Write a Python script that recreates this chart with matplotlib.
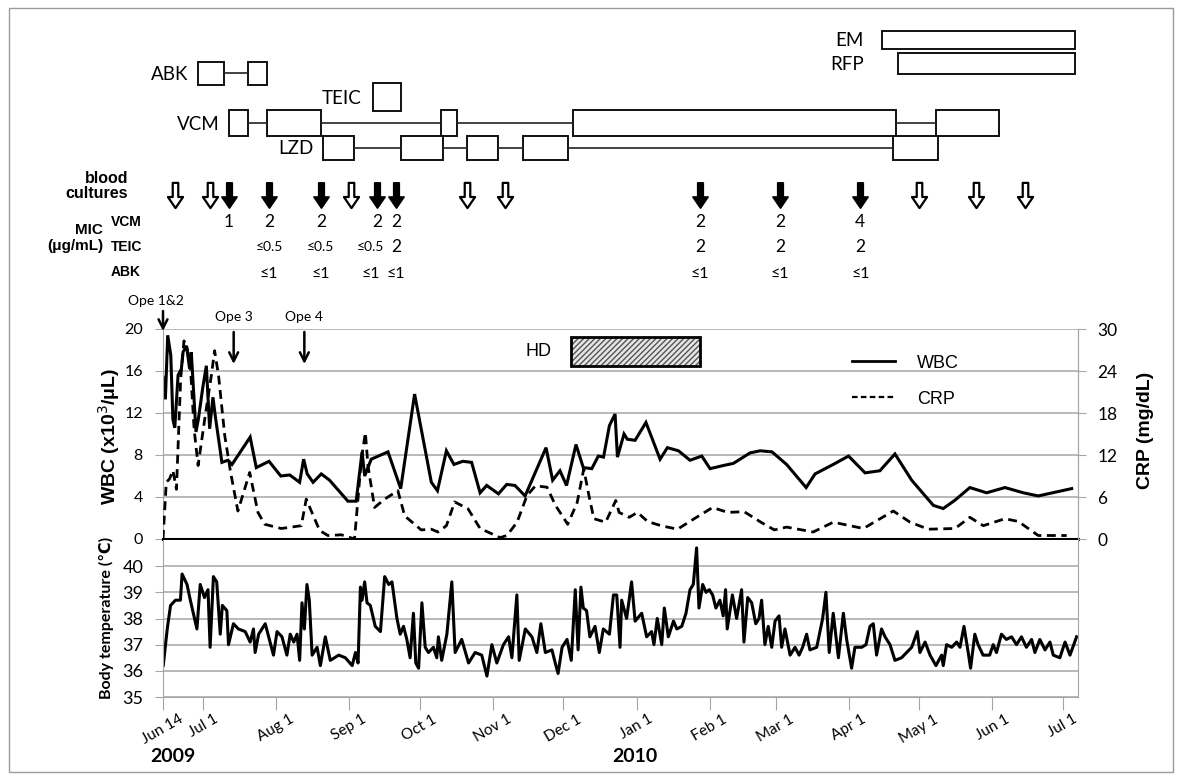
import datetime as dt
import numpy as np
import matplotlib
matplotlib.use("Agg")
import matplotlib.pyplot as plt
from matplotlib.path import Path
from matplotlib.patches import Rectangle
from matplotlib.lines import Line2D
from matplotlib.transforms import blended_transform_factory

# ---------------------------------------------------------------- data
START = dt.date(2009, 6, 14)
END_DAY = 388.4

tick_dates = [dt.date(2009, 6, 14), dt.date(2009, 7, 1), dt.date(2009, 8, 1),
              dt.date(2009, 9, 1), dt.date(2009, 10, 1), dt.date(2009, 11, 1),
              dt.date(2009, 12, 1), dt.date(2010, 1, 1), dt.date(2010, 2, 1),
              dt.date(2010, 3, 1), dt.date(2010, 4, 1), dt.date(2010, 5, 1),
              dt.date(2010, 6, 1), dt.date(2010, 7, 1)]
tick_labels = ["Jun 14", "Jul 1", "Aug 1", "Sep 1", "Oct 1", "Nov 1", "Dec 1",
               "Jan 1", "Feb 1", "Mar 1", "Apr 1", "May 1", "Jun 1", "Jul 1"]

# WBC (x10^3/uL): day since Jun 14 2009, value
wbc_day = [0, 1, 2, 3.3, 4.2, 5, 6.4, 7.8, 8.5, 10, 11.3, 12, 14, 15, 17, 18.4,
           19.8, 21.2, 22.2, 25, 27.6, 29.3, 37, 39.6, 45, 50, 53.8, 58, 59.7,
           61.2, 63.7, 67.2, 70.7, 78.5, 82, 84.5, 85.6, 88.4, 95.5, 100.9,
           106.8, 113.9, 116.5, 120.3, 123.5, 127.3, 131, 134.6, 137.4, 142.4,
           145.9, 149.4, 153.7, 162.6, 165.4, 168.5, 171.3, 175.3, 178.4, 182,
           184.8, 187, 189.5, 191.9, 192.9, 195.7, 197.1, 200.4, 205, 211,
           214.1, 218.8, 223.7, 228.7, 232.2, 237.9, 242.1, 249.2, 253.5,
           258.5, 264.7, 273, 276.8, 284.5, 291, 298, 304.3, 310.7, 317.8,
           327, 331.2, 336.2, 342.5, 349.6, 357.4, 365.2, 371.5, 385.7]
wbc_val = [15.4, 13.3, 19.4, 17.5, 11.4, 10.6, 15.6, 16.2, 17.8, 18.4, 16.2,
           17.8, 10.2, 11.4, 14.6, 16.5, 10.5, 13.5, 11.7, 7.3, 7.5, 7.1, 9.7,
           6.8, 7.4, 6.0, 6.1, 5.4, 7.6, 6.2, 5.4, 6.2, 5.6, 3.6, 3.6, 8.3,
           6.0, 7.6, 8.3, 4.8, 13.8, 5.4, 4.6, 8.4, 7.1, 7.4, 7.3, 4.4, 5.1,
           4.3, 5.2, 5.1, 4.1, 8.7, 5.6, 6.5, 5.1, 9.0, 6.8, 6.7, 7.9, 7.8,
           10.8, 11.9, 7.8, 10.0, 9.5, 9.4, 11.1, 7.6, 8.7, 8.4, 7.5, 7.9,
           6.7, 7.0, 7.2, 8.2, 8.4, 8.3, 7.1, 4.9, 6.2, 7.1, 7.9, 6.3, 6.5,
           8.1, 5.6, 3.2, 2.9, 3.7, 4.9, 4.4, 4.9, 4.4, 4.1, 4.8]

# CRP (mg/dL)
crp_day = [0, 1.4, 2.8, 4.2, 5.7, 7.5, 8.9, 10.3, 11.7, 13.2, 14.9, 17.7, 20.5,
           21.9, 23.6, 26.2, 28.7, 31.8, 36.8, 40.3, 43.2, 50.2, 58.7, 60.8,
           66.5, 70, 75.7, 81.3, 84.2, 85.9, 87, 89.8, 94.1, 99.7, 102.6,
           109.6, 113.9, 116.7, 120.3, 123.8, 129.5, 134.6, 143.1, 146, 150.3,
           154.5, 158.1, 163, 166.6, 171.8, 175.8, 178.6, 180.8, 182.9, 187.9,
           192.2, 193.6, 197.9, 201.4, 205.7, 211.4, 218.4, 225.5, 233.3,
           239.7, 246.7, 253.8, 259.5, 264.7, 276, 284.5, 297.3, 310, 317.1,
           324.9, 336.2, 342.5, 348.2, 357.4, 363.1, 371.5, 383.6]
crp_val = [0, 8.1, 8.6, 9.8, 7.1, 22.9, 28.3, 27.1, 24.3, 15.7, 10.5, 17.1,
           23.3, 26.9, 23.3, 14.8, 9.5, 4.0, 9.5, 3.8, 2.1, 1.5, 1.9, 5.7, 1.2,
           0.5, 0.6, 0, 11.4, 15.2, 10.5, 4.5, 5.7, 6.9, 3.3, 1.3, 1.4, 1.0,
           1.9, 5.3, 4.3, 1.5, 0.2, 0.5, 2.4, 6.2, 7.6, 7.4, 4.8, 2.1, 5.2,
           10.0, 6.2, 2.9, 2.4, 5.5, 3.8, 3.1, 3.8, 2.5, 1.9, 1.4, 2.9, 4.5,
           3.8, 3.9, 2.4, 1.3, 1.7, 1.0, 2.4, 1.5, 4.0, 2.4, 1.4, 1.5, 3.1,
           1.9, 2.9, 2.5, 0.5, 0.5]

# Body temperature (deg C)
temp_day = [0.1, 1.8, 3.2, 5.3, 7.4, 8.1, 10.2, 11.6, 14.4, 15.8, 17.6, 19.1,
            20, 21.4, 22.8, 24.3, 25.2, 27.1, 27.8, 29.9, 32, 34.9, 37, 38.4,
            39.1, 40.6, 43.4, 46.9, 48.4, 50.5, 52.6, 54, 55.5, 56.9, 58, 59,
            60, 61.1, 62.1, 63.3, 65.4, 66.8, 68.9, 71, 74.6, 77.4, 80.3, 81.7,
            82.8, 83.8, 84.5, 85.6, 86.6, 88, 90.1, 92.3, 94.1, 95.8, 97.2,
            99.3, 100.7, 102.1, 103.5, 104.9, 106.3, 107.3, 108.5, 109.9,
            111.3, 112.7, 114.8, 116.2, 116.9, 118.3, 120.5, 122.6, 124, 126.8,
            129.7, 132.5, 135.3, 137.5, 139.6, 141.7, 144.5, 146.7, 148.1,
            150.2, 151.2, 153.8, 156.6, 158.7, 160.4, 162.3, 165.1, 166.5,
            167.7, 169.4, 171.5, 173.3, 175, 176.2, 177.4, 178.4, 179.8, 181.2,
            183.4, 185.2, 186.9, 189.5, 191.2, 192.6, 194, 194.7, 196.8, 198.9,
            200.4, 203.2, 205.3, 207.4, 208.4, 209.8, 211.7, 212.8, 214.5,
            216.7, 218.1, 220.2, 222, 223.7, 225.1, 226.5, 227.5, 229.1, 230.5,
            231.9, 233.3, 234.7, 236.4, 237.8, 238.8, 239.5, 241.7, 243.5,
            245.6, 246.6, 248.2, 249.9, 251.6, 253, 254.1, 255.5, 256.9, 258.4,
            259.8, 261.5, 262.6, 264, 266.2, 268.3, 270, 271.5, 273.2, 274.6,
            277.5, 280, 281.4, 282.8, 284.5, 286.7, 288.8, 290.2, 292.3, 293.7,
            296.6, 298.4, 300.1, 301.5, 302.9, 305, 306.5, 308.6, 310.7, 313.5,
            317.8, 320.2, 321.3, 323.5, 325.6, 328.1, 330.5, 331.2, 332.6,
            334.8, 336.9, 338.3, 340, 341.8, 342.8, 344.6, 346, 348.1, 350.9,
            352.4, 353.8, 355.9, 358, 360.2, 362.3, 364.4, 366.5, 368.7, 370.1,
            372.2, 374.4, 376.5, 377.9, 380.7, 382.9, 385, 387.8]
temp_val = [36.2, 37.6, 38.5, 38.7, 38.7, 39.7, 39.3, 38.7, 37.6, 39.3, 38.8,
            39.1, 36.9, 39.6, 39.4, 37.4, 38.5, 38.3, 37.0, 37.8, 37.6, 37.5,
            37.1, 37.6, 36.7, 37.4, 37.8, 36.6, 37.5, 37.3, 36.6, 37.4, 37.1,
            37.4, 36.4, 38.6, 37.6, 39.3, 38.7, 36.6, 36.9, 36.2, 37.3, 36.4,
            36.6, 36.5, 36.2, 36.7, 36.3, 39.2, 38.7, 39.4, 38.6, 38.5, 37.7,
            37.5, 39.6, 39.3, 39.4, 38.0, 37.4, 37.7, 37.2, 36.5, 38.2, 36.3,
            36.1, 38.6, 36.9, 36.7, 36.9, 36.5, 37.3, 36.4, 37.4, 39.4, 36.7,
            37.2, 36.3, 36.7, 36.6, 35.8, 37.0, 36.3, 37.0, 37.3, 36.5, 38.9,
            36.4, 37.6, 37.3, 36.7, 37.8, 36.7, 36.8, 36.3, 35.9, 36.9, 37.2,
            36.4, 39.1, 36.8, 39.2, 38.4, 38.3, 37.3, 37.7, 36.7, 37.6, 37.4,
            38.9, 38.9, 36.9, 38.7, 38.0, 39.4, 37.9, 38.2, 37.3, 37.5, 37.0,
            38.0, 37.0, 38.4, 37.3, 37.9, 37.6, 37.7, 38.2, 39.1, 39.3, 40.7,
            38.4, 39.3, 39.0, 39.1, 38.9, 38.4, 38.7, 38.1, 39.1, 37.6, 38.9,
            38.0, 39.1, 37.1, 38.8, 38.6, 37.8, 38.0, 38.7, 37.0, 37.7, 36.9,
            37.9, 38.1, 36.9, 37.6, 36.6, 36.9, 36.6, 36.9, 37.4, 36.8, 36.9,
            38.0, 39.0, 36.7, 38.2, 36.5, 38.2, 37.2, 36.1, 36.9, 36.9, 37.0,
            37.7, 37.8, 36.6, 37.6, 37.3, 37.0, 36.4, 36.5, 36.9, 37.5, 36.7,
            37.1, 36.6, 36.2, 36.6, 36.2, 37.0, 36.9, 37.1, 36.9, 37.7, 36.7,
            36.1, 37.4, 37.0, 36.6, 36.6, 37.0, 36.7, 37.4, 37.2, 37.3, 37.0,
            37.3, 36.9, 37.2, 36.7, 37.2, 36.8, 37.1, 36.6, 36.5, 37.1, 36.6,
            37.3]

# antibiotic courses (day since Jun 14 2009: start, end)
drug_names = ["ABK", "TEIC", "VCM", "LZD", "EM", "RFP"]
abk_periods = [(15, 26), (36, 44)]
teic_periods = [(89, 101)]
vcm_periods = [(28, 36), (44, 67), (118, 125), (174, 311), (328, 355)]
lzd_periods = [(68, 81), (101, 119), (129, 142), (153, 172), (310, 329)]
em_periods = [(305, 387)]
rfp_periods = [(312, 387)]

# blood cultures: negative (open arrows) / positive (filled arrows)
neg_culture_days = [5, 20, 80, 129, 145, 321, 345, 366]
pos_culture_days = [28, 45, 67, 91, 99, 228, 262, 296]
mic_vcm = ["1", "2", "2", "2", "2", "2", "2", "4"]
mic_teic = ["", "≤0.5", "≤0.5", "≤0.5", "2", "2", "2", "2"]
mic_abk = ["", "≤1", "≤1", "≤1", "≤1", "≤1", "≤1", "≤1"]

hd_period = (173, 228)
ope_days = [0, 30, 60]
ope_labels = ["Ope 1&2", "Ope 3", "Ope 4"]

# ---------------------------------------------------------------- style
W, H = 1184, 782
fig = plt.figure(figsize=(W / 100, H / 100), dpi=100)
GRID = "#a6a6a6"
SANS = ["Liberation Sans", "DejaVu Sans"]
CAL = ["Lato", "DejaVu Sans"]


def fbox(x0, y0, x1, y1):
    """pixel box (top-left origin) -> figure fraction rect"""
    return [x0 / W, 1 - y1 / H, (x1 - x0) / W, (y1 - y0) / H]


tick_days = [(d - START).days for d in tick_dates]

# ---------------------------------------------------------------- main chart
ax1 = fig.add_axes(fbox(163, 329, 1078, 539))
ax1.set_xlim(0, END_DAY)
ax1.set_ylim(0, 20)
ax1.set_yticks(np.arange(0, 21, 4))
ax1.set_xticks([])
ax1.yaxis.grid(True, color=GRID, lw=1.1)
ax1.set_axisbelow(True)
ax1.spines["top"].set_visible(False)
ax1.spines["left"].set_color(GRID)
ax1.spines["right"].set_color(GRID)
ax1.spines["bottom"].set_color("black")
ax1.spines["bottom"].set_linewidth(2.2)
ax1.tick_params(axis="y", length=6, color=GRID, labelsize=11.5, pad=8.5)
for t in ax1.get_yticklabels():
    t.set_family(CAL)
ax1.plot(wbc_day, wbc_val, color="black", lw=2.2, solid_joinstyle="miter")

ax2 = ax1.twinx()
ax2.set_ylim(0, 30)
ax2.set_yticks(np.arange(0, 31, 6))
ax2.spines["top"].set_visible(False)
ax2.spines["left"].set_visible(False)
ax2.spines["bottom"].set_visible(False)
ax2.spines["right"].set_color(GRID)
ax2.tick_params(axis="y", length=6, color=GRID, labelsize=12.5, pad=8)
for t in ax2.get_yticklabels():
    t.set_family(CAL)
ax2.plot(crp_day, crp_val, color="black", lw=2.0, ls=(0, (3.2, 2)))

# HD bar
ax1.add_patch(Rectangle((hd_period[0], 16.5), hd_period[1] - hd_period[0],
                        2.75, facecolor="#e6e6e6", edgecolor="#555555",
                        hatch="//////", lw=0, zorder=3))
ax1.add_patch(Rectangle((hd_period[0], 16.5), hd_period[1] - hd_period[0],
                        2.75, fill=False, edgecolor="black", lw=2.0, zorder=4))
ax1.text(hd_period[0] - 8, 17.85, "HD", ha="right", va="center", fontsize=13,
         family=SANS, zorder=4)

leg_handles = [Line2D([], [], color="black", lw=2.0),
               Line2D([], [], color="black", lw=1.6, ls=(0, (2.5, 1.5)))]
leg = ax2.legend(leg_handles, ["WBC", "CRP"], loc="upper left",
                 bbox_to_anchor=(0.735, 0.955), frameon=False,
                 handlelength=2.4, handletextpad=1.2, labelspacing=1.05,
                 prop={"family": SANS, "size": 13})

fig.text(109 / W, 1 - 436 / H, "WBC (x10$^{3}$/μL)", rotation=90,
         ha="center", va="center", fontsize=14, fontweight="bold", family=SANS)
fig.text(1145 / W, 1 - 430 / H, "CRP (mg/dL)", rotation=90,
         ha="center", va="center", fontsize=14, fontweight="bold", family=SANS)

# ---------------------------------------------------------------- temperature
ax3 = fig.add_axes(fbox(163, 540, 1078, 697))
ax3.set_xlim(0, END_DAY)
ax3.set_ylim(35, 41)
ax3.set_yticks(np.arange(35, 41, 1))
ax3.yaxis.grid(True, color=GRID, lw=1.1)
ax3.set_axisbelow(True)
ax3.spines["top"].set_visible(False)
for s in ["left", "right", "bottom"]:
    ax3.spines[s].set_color(GRID)
ax3.set_xticks(tick_days)
ax3.set_xticklabels(tick_labels, rotation=30, ha="center", fontsize=11,
                    family=CAL)
ax3.tick_params(axis="x", length=9, color=GRID, pad=2)
ax3.tick_params(axis="y", length=6, color=GRID, labelsize=13, pad=8)
for t in ax3.get_yticklabels():
    t.set_family(CAL)
ax3.plot(temp_day, temp_val, color="black", lw=2.2)
fig.text(106 / W, 1 - 618 / H, "Body temperature (℃)", rotation=90,
         ha="center", va="center", fontsize=11.5, fontweight="bold",
         family=["Lato", "DejaVu Sans"])
fig.text(173 / W, 1 - 756 / H, "2009", ha="center", va="center", fontsize=14,
         fontweight="bold", family=CAL)
fig.text(635 / W, 1 - 756 / H, "2010", ha="center", va="center", fontsize=14,
         fontweight="bold", family=CAL)

# ---------------------------------------------------------------- overlay (top panel)
ov = fig.add_axes([0, 0, 1, 1], zorder=10)
ov.set_xlim(0, W)
ov.set_ylim(H, 0)
ov.set_axis_off()
ov.patch.set_alpha(0)
bt = blended_transform_factory(ax1.transData, ov.transData)  # x: day, y: pixel

row_y = {"ABK": 73, "TEIC": 97, "VCM": 123, "LZD": 148, "EM": 40, "RFP": 63.5}
row_h = {"ABK": 23, "TEIC": 28, "VCM": 26, "LZD": 24, "EM": 18, "RFP": 21}
label_x = {"ABK": 188, "TEIC": 361, "VCM": 220, "LZD": 314, "EM": 864,
           "RFP": 864}
periods = {"ABK": abk_periods, "TEIC": teic_periods, "VCM": vcm_periods,
           "LZD": lzd_periods, "EM": em_periods, "RFP": rfp_periods}
for name in drug_names:
    y, h = row_y[name], row_h[name]
    per = periods[name]
    for s, e in per:
        ov.add_patch(Rectangle((s, y - h / 2), e - s, h, transform=bt,
                               facecolor="white", edgecolor="#111111", lw=1.4))
    for (s1, e1), (s2, e2) in zip(per[:-1], per[1:]):
        ov.plot([e1, s2], [y, y], transform=bt, color="#222222", lw=1.2,
                zorder=1)
    ov.text(label_x[name], y + 1, name, ha="right", va="center", fontsize=13.5,
            family=CAL)

# block-arrow marker
arrow = Path([(-0.22, 1), (0.22, 1), (0.22, -0.12), (0.6, -0.12), (0, -1),
              (-0.6, -0.12), (-0.22, -0.12), (-0.22, 1)],
             [Path.MOVETO] + [Path.LINETO] * 6 + [Path.CLOSEPOLY])
ov.scatter(neg_culture_days, [195] * len(neg_culture_days), marker=arrow,
           s=330, facecolor="white", edgecolor="black", lw=1.6, transform=bt)
ov.scatter(pos_culture_days, [195] * len(pos_culture_days), marker=arrow,
           s=330, facecolor="black", edgecolor="black", lw=1.2, transform=bt)

# MIC values
shift = [0, 0, 0, -7, 0, 0, 0, 0]
for i, d in enumerate(pos_culture_days):
    ov.text(d, 222, mic_vcm[i], transform=bt, ha="center", va="center",
            fontsize=12.5, family=CAL)
    sz = 10 if "0.5" in mic_teic[i] else 12.5
    tx = ov.transData.inverted().transform(
        bt.transform((d, 0)) + np.array([shift[i], 0]))[0]
    ov.text(tx, 247, mic_teic[i], ha="center", va="center", fontsize=sz,
            family=CAL)
    ov.text(tx, 274, mic_abk[i], ha="center", va="center", fontsize=11.5,
            family=CAL)

ov.text(128, 186, "blood\ncultures", ha="right", va="center", fontsize=11.5,
        fontweight="bold", family=SANS, linespacing=1.05)
ov.text(103, 238, "MIC\n(μg/mL)", ha="right", va="center", fontsize=11,
        fontweight="bold", family=SANS, linespacing=1.2)
for lab, yy in [("VCM", 222), ("TEIC", 247), ("ABK", 272)]:
    ov.text(111, yy, lab, ha="left", va="center", fontsize=10,
            fontweight="bold", family=SANS)

# operations
for i, (d, lab) in enumerate(zip(ope_days, ope_labels)):
    if i == 0:
        y0, y1, yt, dx = 311, 331, 301, -7
    else:
        y0, y1, yt, dx = 332, 364, 317, 0
    ov.annotate("", xy=(d, y1), xytext=(d, y0), xycoords=bt, textcoords=bt,
                arrowprops=dict(arrowstyle="->", lw=1.8, color="black",
                                mutation_scale=16, shrinkA=0, shrinkB=0))
    tx = bt.transform((d, 0))[0] + dx
    ov.text(ov.transData.inverted().transform((tx, 0))[0], yt, lab,
            ha="center", va="center", fontsize=10, family=CAL)

# figure frame
ov.add_patch(Rectangle((9, 8), 1164, 764, fill=False, edgecolor="#9a9a9a",
                       lw=1.0))

fig.savefig("out.png", dpi=100)
